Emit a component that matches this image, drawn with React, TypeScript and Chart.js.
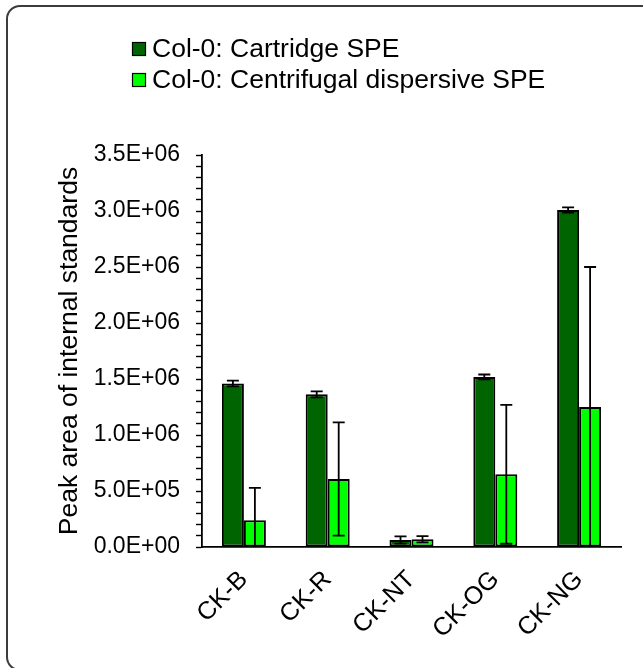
import React, { useEffect, useRef } from "react";
import { Chart, registerables } from "chart.js";

Chart.register(...registerables);

const categories = ["CK-B", "CK-R", "CK-NT", "CK-OG", "CK-NG"];
const seriesNames = ["Col-0: Cartridge SPE", "Col-0: Centrifugal dispersive SPE"];
const cartridgeValues = [1460000, 1363000, 62500, 1518000, 3009000];
const cartridgeErrors = [25000, 27000, 33000, 22000, 24000];
const dispersiveValues = [238000, 607000, 69000, 649000, 1250000];
const dispersiveErrors = [290000, 506000, 28000, 620000, 1250000];
const yAxisTitle = "Peak area of internal standards";
const yMin = 0;
const yMax = 3500000;
const minorStep = 100000;
const majorEvery = 5;

const FONT = "'Liberation Sans', Arial, Helvetica, sans-serif";
const DARK = "#006400";
const LIGHT = "#00ff00";

function fmtSci(v: number): string {
  const s = v.toExponential(1).toUpperCase();
  const [m, e] = s.split("E");
  const sign = e[0] === "-" ? "-" : "+";
  const digits = e.replace(/[+-]/, "").padStart(2, "0");
  return `${m}E${sign}${digits}`;
}

const errorBarPlugin = {
  id: "errorBars",
  afterDatasetsDraw(chart: any) {
    const ctx = chart.ctx;
    const yScale = chart.scales.y;
    const errs = [cartridgeErrors, dispersiveErrors];
    ctx.save();
    ctx.strokeStyle = "#000";
    ctx.lineWidth = 1.8;
    chart.data.datasets.forEach((ds: any, di: number) => {
      const meta = chart.getDatasetMeta(di);
      meta.data.forEach((bar: any, i: number) => {
        const v = ds.data[i];
        const e = errs[di][i];
        const hiV = v + e;
        const loV = Math.max(0, v - e);
        const yHi = yScale.getPixelForValue(hiV);
        const yLo = yScale.getPixelForValue(loV);
        const x = bar.x;
        const cap = 6;
        ctx.beginPath();
        ctx.moveTo(x, yHi);
        ctx.lineTo(x, yLo);
        ctx.moveTo(x - cap, yHi);
        ctx.lineTo(x + cap, yHi);
        if (v - e > 0) {
          ctx.moveTo(x - cap, yLo);
          ctx.lineTo(x + cap, yLo);
        }
        ctx.stroke();
      });
    });
    ctx.restore();
  },
};

const legendPlugin = {
  id: "customLegend",
  afterDraw(chart: any) {
    const ctx = chart.ctx;
    ctx.save();
    const startX = 132;
    const rows = [49, 80];
    chart.data.datasets.forEach((ds: any, i: number) => {
      const cy = rows[i];
      ctx.fillStyle = ds.backgroundColor;
      ctx.fillRect(startX, cy - 7, 14, 14);
      ctx.strokeStyle = "#000";
      ctx.lineWidth = 1.2;
      ctx.strokeRect(startX + 0.5, cy - 6.5, 13, 13);
      ctx.fillStyle = "#000";
      ctx.font = `26.5px ${FONT}`;
      ctx.textBaseline = "middle";
      ctx.textAlign = "left";
      ctx.fillText(ds.label, startX + 20, cy + 1);
    });
    ctx.restore();
  },
};

export default function App() {
  const ref = useRef<HTMLCanvasElement | null>(null);
  useEffect(() => {
    if (!ref.current) return;
    const chart = new Chart(ref.current, {
      type: "bar",
      data: {
        labels: categories,
        datasets: [
          {
            label: seriesNames[0],
            data: cartridgeValues,
            backgroundColor: DARK,
            borderColor: "#000",
            borderWidth: 2,
            borderSkipped: false,
            categoryPercentage: 0.525,
            barPercentage: 1.0,
          },
          {
            label: seriesNames[1],
            data: dispersiveValues,
            backgroundColor: LIGHT,
            borderColor: "#000",
            borderWidth: 2,
            borderSkipped: false,
            categoryPercentage: 0.525,
            barPercentage: 1.0,
          },
        ],
      },
      options: {
        animation: false,
        responsive: false,
        maintainAspectRatio: false,
        layout: { padding: { top: 155, left: 0, right: 22, bottom: 0 } },
        plugins: {
          legend: { display: false },
          tooltip: { enabled: false },
        },
        scales: {
          x: {
            grid: { display: false, drawTicks: false, tickLength: 0 },
            border: { display: true, color: "#000", width: 1.8 },
            ticks: {
              color: "#000",
              font: { family: FONT, size: 25 },
              minRotation: 45,
              maxRotation: 45,
              padding: 18,
            },
            afterFit: (scale: any) => {
              scale.height = 121;
            },
          },
          y: {
            min: yMin,
            max: yMax,
            grid: {
              display: true,
              drawOnChartArea: false,
              drawTicks: true,
              tickLength: 6,
              tickColor: "#000",
              tickWidth: 1.4,
            },
            border: { display: true, color: "#000", width: 1.8 },
            ticks: {
              stepSize: minorStep,
              autoSkip: false,
              color: "#000",
              font: { family: FONT, size: 23 },
              padding: 16,
              callback: (v: any) => {
                const n = Number(v);
                return Math.round(n / minorStep) % majorEvery === 0 ? fmtSci(n) : "";
              },
            },
            title: {
              display: true,
              text: yAxisTitle,
              color: "#000",
              font: { family: FONT, size: 26.5 },
              padding: { top: 54, bottom: 0 },
            },
            afterFit: (scale: any) => {
              scale.width = 202;
            },
          },
        },
      },
      plugins: [errorBarPlugin, legendPlugin],
    });
    return () => chart.destroy();
  }, []);

  return (
    <div
      style={{
        position: "fixed",
        left: 0,
        top: 0,
        width: 643,
        height: 668,
        overflow: "hidden",
        background: "#fff",
      }}
    >
      <div
        style={{
          position: "absolute",
          left: 6,
          top: 5,
          width: 700,
          height: 666,
          border: "2px solid #3c3c3c",
          borderRadius: 14,
          boxSizing: "border-box",
        }}
      />
      <canvas
        ref={ref}
        width={643}
        height={668}
        style={{ position: "absolute", left: 0, top: 0, width: 643, height: 668 }}
      />
    </div>
  );
}
